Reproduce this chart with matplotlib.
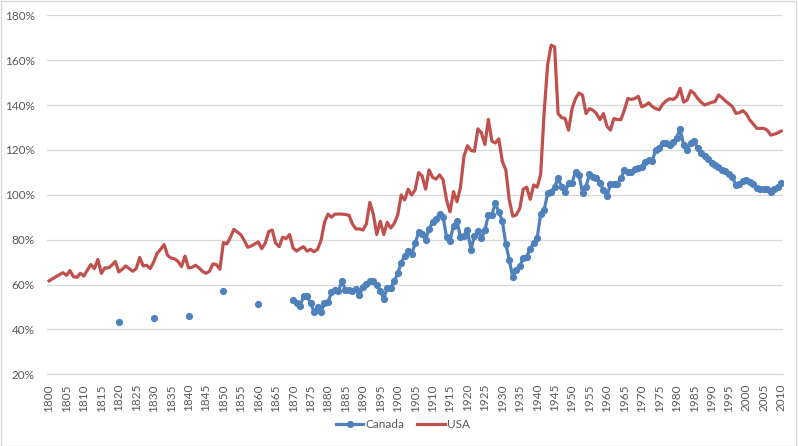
import numpy as np
import matplotlib
matplotlib.use("Agg")
import matplotlib.pyplot as plt
from matplotlib.ticker import FuncFormatter, FixedLocator

plt.rcParams['font.family'] = ['Lato', 'DejaVu Sans']

years = list(range(1800, 2011))

usa = [
    61.6, 62.6, 63.5, 64.4, 65.3, 64.1, 66.2, 63.5, 63.2, 65.0,   # 1800-1809
    63.8, 66.5, 68.9, 67.1, 71.2, 65.0, 67.4, 67.4, 68.6, 70.3,   # 1810-1819
    65.6, 66.8, 68.3, 67.1, 65.9, 67.1, 72.1, 68.3, 68.6, 67.1,   # 1820-1829
    70.0, 73.9, 75.7, 77.8, 73.0, 71.8, 71.5, 70.3, 68.0, 72.7,   # 1830-1839
    67.4, 67.7, 68.6, 67.4, 65.9, 65.0, 65.9, 69.2, 68.9, 66.8,   # 1840-1849
    78.7, 78.1, 81.0, 84.6, 83.4, 82.2, 79.6, 76.6, 77.2, 78.1,   # 1850-1859
    79.0, 76.0, 78.4, 83.6, 84.3, 78.4, 76.9, 81.1, 80.5, 82.3,   # 1860-1869
    76.3, 74.9, 76.0, 76.9, 74.9, 75.7, 74.6, 75.7, 79.6, 87.7,   # 1870-1879
    91.4, 90.0, 91.4, 91.4, 91.4, 91.2, 90.9, 87.0, 84.8, 84.8,   # 1880-1889
    84.3, 87.0, 96.6, 91.4, 82.3, 88.2, 82.3, 87.7, 85.2, 87.2,   # 1890-1899
    91.0, 99.9, 97.7, 102.5, 99.9, 102.2, 109.9, 108.4, 102.5, 111.1,  # 1900-1909
    107.8, 107.0, 108.9, 106.7, 97.7, 92.4, 101.4, 96.9, 103.4, 117.1,  # 1910-1919
    121.9, 119.8, 119.4, 129.4, 127.6, 122.4, 133.6, 123.9, 123.1, 124.9,  # 1920-1929
    114.9, 111.1, 97.7, 90.5, 91.0, 93.9, 102.5, 103.4, 98.0, 104.4,  # 1930-1939
    103.4, 109.1, 137.0, 158.0, 166.7, 165.9, 136.2, 134.4, 134.0, 128.8,  # 1940-1949
    138.4, 142.9, 145.4, 144.4, 136.2, 138.4, 137.7, 136.2, 133.5, 136.2,  # 1950-1959
    130.6, 128.8, 134.0, 133.5, 133.5, 137.7, 142.9, 142.5, 142.9, 143.9,  # 1960-1969
    139.2, 139.9, 141.0, 139.3, 138.4, 137.9, 140.4, 141.9, 142.8, 142.5,  # 1970-1979
    143.7, 147.5, 141.3, 142.2, 146.4, 145.2, 143.0, 141.3, 140.0, 140.6,  # 1980-1989
    141.2, 141.5, 144.5, 143.3, 141.8, 140.6, 139.3, 136.3, 136.6, 137.5,  # 1990-1999
    136.0, 133.3, 131.5, 129.6, 129.6, 129.6, 128.8, 126.6, 127.0, 127.6,  # 2000-2009
    128.4,                                                             # 2010
]

canada_early_years = [1820, 1830, 1840, 1850, 1860]
canada_early = [43.5, 45.0, 46.2, 57.0, 51.2]

canada_from_1870 = [
    52.9, 52.0, 50.6, 54.7, 54.7, 51.8, 47.7, 50.0, 47.7, 51.8,   # 1870-1879
    52.2, 56.6, 57.7, 57.1, 61.5, 57.7, 57.7, 57.1, 58.1, 55.2,   # 1880-1889
    58.9, 60.3, 61.5, 61.5, 60.0, 57.1, 53.7, 58.6, 58.6, 61.5,   # 1890-1899
    65.0, 69.5, 72.9, 74.9, 73.4, 78.4, 83.3, 82.6, 79.9, 84.8,   # 1900-1909
    87.8, 89.3, 91.5, 90.3, 81.1, 79.6, 86.3, 88.2, 81.1, 81.8,   # 1910-1919
    84.4, 75.4, 81.8, 83.8, 80.8, 84.1, 91.1, 91.2, 96.3, 92.3,   # 1920-1929
    88.5, 78.1, 71.0, 63.3, 66.3, 68.1, 71.9, 72.5, 76.0, 78.5,   # 1930-1939
    80.9, 91.3, 93.4, 100.6, 101.3, 103.6, 107.3, 103.6, 101.3, 105.1,  # 1940-1949
    105.4, 110.3, 108.8, 100.9, 103.6, 109.3, 107.8, 107.3, 105.4, 102.1,  # 1950-1959
    99.4, 104.8, 104.8, 104.8, 107.3, 111.0, 110.3, 110.3, 111.3, 112.0,  # 1960-1969
    112.6, 114.8, 115.5, 115.2, 120.0, 121.0, 123.0, 123.0, 122.3, 123.7,  # 1970-1979
    125.5, 129.3, 122.3, 120.0, 123.0, 124.2, 120.8, 118.8, 117.3, 115.8,  # 1980-1989
    114.3, 113.2, 112.2, 111.1, 110.5, 109.2, 108.0, 104.2, 104.7, 106.3,  # 1990-1999
    106.8, 105.6, 104.8, 103.0, 102.7, 102.7, 102.7, 101.2, 102.6, 103.5,  # 2000-2009
    105.3,                                                             # 2010
]

series_names = ["Canada", "USA"]
y_ticks = [20, 40, 60, 80, 100, 120, 140, 160, 180]
x_label_years = list(range(1800, 2011, 5))

# assemble Canada series with gaps
canada = np.full(len(years), np.nan)
for yr, v in zip(canada_early_years, canada_early):
    canada[years.index(yr)] = v
start = years.index(1870)
canada[start:start + len(canada_from_1870)] = canada_from_1870

blue = "#4F81BD"
red = "#C0504D"
grid_c = "#D9D9D9"
text_c = "#595959"

fig = plt.figure(figsize=(7.98, 4.46), dpi=100)
fig.patch.set_facecolor("white")
ax = fig.add_axes([47.3 / 798, 1 - 374.3 / 446, (783 - 47.3) / 798, (374.3 - 15.3) / 446])

ax.plot(years, canada, color=blue, lw=2.3, marker="o", markersize=5.2,
        markeredgewidth=0, label=series_names[0], solid_joinstyle="round")
ax.plot(years, usa, color=red, lw=2.3, label=series_names[1], solid_joinstyle="round")

ax.set_xlim(1799.5, 2010.5)
ax.set_ylim(20, 180)
ax.yaxis.set_major_locator(FixedLocator(y_ticks))
ax.yaxis.set_major_formatter(FuncFormatter(lambda v, p: f"{int(v)}%"))
ax.xaxis.set_major_locator(FixedLocator(x_label_years))
ax.set_xticklabels([str(y) for y in x_label_years], rotation=90)

ax.grid(axis="y", color=grid_c, lw=0.9)
ax.set_axisbelow(True)
for s in ["top", "right", "left"]:
    ax.spines[s].set_visible(False)
ax.spines["bottom"].set_color(grid_c)
ax.spines["bottom"].set_linewidth(0.9)
ax.tick_params(axis="both", length=0, colors=text_c, labelsize=8.5)
ax.tick_params(axis="x", pad=7)
ax.tick_params(axis="y", pad=9)

handles, labels = ax.get_legend_handles_labels()
fig.legend(handles, labels, loc="center", bbox_to_anchor=(0.505, 1 - 425 / 446),
           ncol=2, frameon=False, fontsize=8.5, labelcolor=text_c,
           handlelength=2.3, columnspacing=1.1, handletextpad=0.2)

fig.add_artist(plt.Rectangle((0.001, 0.001), 0.997, 0.997, transform=fig.transFigure,
                             fill=False, edgecolor=grid_c, lw=1))

fig.savefig("out.png", dpi=100)
